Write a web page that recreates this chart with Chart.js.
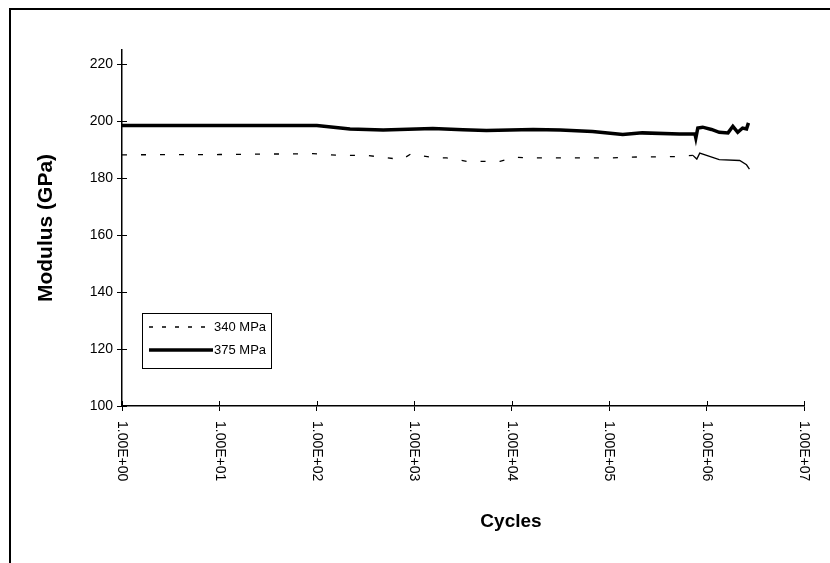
<!DOCTYPE html>
<html>
<head>
<meta charset="utf-8">
<script src="https://cdn.jsdelivr.net/npm/chart.js@4/dist/chart.umd.min.js"></script>
<style>
  html, body { margin: 0; padding: 0; background: #fff; }
  #wrap { position: relative; width: 830px; height: 563px; }
</style>
</head>
<body>
<div id="wrap"><canvas id="c" width="830" height="563"></canvas></div>
<script>
// Elastic modulus against fatigue cycles for two stress amplitudes
const seriesLabels = ['340 MPa', '375 MPa'];

const cycles340 = [1, 10, 91, 174, 324, 603, 759, 933, 1122, 1698, 2138, 3467, 7586, 10715,
  15136, 109600, 162200, 525000, 724000, 794000, 851000, 1349000, 2188000, 2570000, 2754000];
const modulus340 = [188.2, 188.3, 188.6, 188.0, 188.0, 186.9, 186.7, 188.6, 188.0, 187.1, 187.1, 185.9, 185.9, 187.4,
  187.1, 187.1, 187.4, 187.6, 188.0, 186.7, 188.8, 186.5, 186.2, 184.7, 183.2];

const cycles375 = [1, 10, 100, 219, 479, 1549, 3162, 5495, 16600, 31600, 67600, 138000, 219000,
  525000, 759000, 776000, 813000, 912000, 1122000, 1349000, 1660000, 1862000, 2089000, 2344000, 2570000, 2692000];
const modulus375 = [198.5, 198.5, 198.5, 197.3, 196.9, 197.4, 197.0, 196.7, 197.1, 196.9, 196.4, 195.3, 195.9,
  195.5, 195.6, 194.1, 197.6, 197.9, 197.1, 196.1, 195.9, 198.2, 196.1, 197.6, 197.3, 199.4];

const xTickValues = [1, 10, 100, 1000, 10000, 100000, 1000000, 10000000];
const xTickLabels = ['1.00E+00', '1.00E+01', '1.00E+02', '1.00E+03', '1.00E+04', '1.00E+05', '1.00E+06', '1.00E+07'];
const yTickValues = [100, 120, 140, 160, 180, 200, 220];
const xAxisTitle = 'Cycles';
const yAxisTitle = 'Modulus (GPa)';

const FONT = 'Arial, "Liberation Sans", sans-serif';

function toPoints(xs, ys) {
  return xs.map((x, i) => ({ x: x, y: ys[i] }));
}

// Outer frame, ticks that cross the axes, rotated tick labels, x title and the legend box
const decorations = {
  id: 'decorations',
  beforeDraw(chart) {
    const ctx = chart.ctx;
    ctx.save();
    ctx.fillStyle = '#fff';
    ctx.fillRect(0, 0, chart.width, chart.height);
    ctx.strokeStyle = '#000';
    ctx.lineWidth = 2;
    ctx.beginPath();
    ctx.moveTo(10, chart.height);
    ctx.lineTo(10, 9);
    ctx.lineTo(chart.width, 9);
    ctx.stroke();
    ctx.restore();
  },
  afterDraw(chart) {
    const ctx = chart.ctx;
    const xs = chart.scales.x;
    const ys = chart.scales.y;
    ctx.save();
    ctx.strokeStyle = '#000';
    ctx.lineWidth = 1;
    // inner halves of the tick marks
    ctx.beginPath();
    yTickValues.forEach(v => {
      const py = Math.round(ys.getPixelForValue(v)) + 0.5;
      ctx.moveTo(xs.left, py);
      ctx.lineTo(xs.left + 5, py);
    });
    xTickValues.forEach(v => {
      const px = Math.round(xs.getPixelForValue(v)) + 0.5;
      ctx.moveTo(px, ys.bottom);
      ctx.lineTo(px, ys.bottom - 5);
    });
    ctx.stroke();

    // x tick labels, reading downwards
    ctx.fillStyle = '#000';
    ctx.font = '14px ' + FONT;
    ctx.textAlign = 'left';
    ctx.textBaseline = 'middle';
    xTickValues.forEach((v, i) => {
      const px = xs.getPixelForValue(v);
      ctx.save();
      ctx.translate(px, ys.bottom + 15);
      ctx.rotate(Math.PI / 2);
      ctx.fillText(xTickLabels[i], 0, 0);
      ctx.restore();
    });

    // x axis title
    ctx.font = 'bold 19px ' + FONT;
    ctx.textAlign = 'center';
    ctx.fillText(xAxisTitle, 511, 522);

    // legend
    const bx = 142, by = 313, bw = 129, bh = 55;
    ctx.fillStyle = '#fff';
    ctx.fillRect(bx, by, bw, bh);
    ctx.lineWidth = 1;
    ctx.strokeRect(bx + 0.5, by + 0.5, bw, bh);
    ctx.font = '13px ' + FONT;
    ctx.textAlign = 'left';
    ctx.textBaseline = 'middle';
    chart.data.datasets.forEach((ds, i) => {
      const ry = by + 14 + i * 23;
      ctx.save();
      ctx.strokeStyle = ds.borderColor;
      ctx.lineWidth = ds.borderWidth;
      ctx.setLineDash(ds.legendDash || []);
      ctx.beginPath();
      ctx.moveTo(bx + 7, ry);
      ctx.lineTo(bx + 71, ry);
      ctx.stroke();
      ctx.restore();
      ctx.fillStyle = '#000';
      ctx.fillText(ds.label, bx + 72, ry);
    });
    ctx.restore();
  }
};

new Chart(document.getElementById('c'), {
  type: 'line',
  data: {
    datasets: [
      {
        label: seriesLabels[0],
        data: toPoints(cycles340, modulus340),
        borderColor: '#000',
        borderWidth: 1.3,
        borderDash: [5, 14],
        legendDash: [4, 9],
        segment: {
          borderDash: c => (c.p0.parsed.x >= 700000 ? [] : [5, 14])
        },
        pointRadius: 0,
        tension: 0,
        fill: false
      },
      {
        label: seriesLabels[1],
        data: toPoints(cycles375, modulus375),
        borderColor: '#000',
        borderWidth: 3.5,
        pointRadius: 0,
        tension: 0,
        fill: false
      }
    ]
  },
  options: {
    responsive: false,
    animation: false,
    devicePixelRatio: 1,
    layout: { padding: { left: 10, top: 50, right: 26, bottom: 0 } },
    plugins: {
      legend: { display: false },
      tooltip: { enabled: false }
    },
    scales: {
      x: {
        type: 'logarithmic',
        min: 1,
        max: 10000000,
        afterBuildTicks: s => { s.ticks = xTickValues.map(v => ({ value: v })); },
        afterFit: s => { s.height = 157; },
        ticks: { display: false },
        grid: { drawOnChartArea: false, drawTicks: true, tickLength: 5, color: '#000', lineWidth: 1 },
        border: { color: '#000', width: 1.5 }
      },
      y: {
        min: 100,
        max: 225,
        afterBuildTicks: s => { s.ticks = yTickValues.map(v => ({ value: v })); },
        afterFit: s => { s.width = 112; },
        ticks: { color: '#000', font: { family: FONT, size: 14 }, padding: 4 },
        grid: { drawOnChartArea: false, drawTicks: true, tickLength: 5, color: '#000', lineWidth: 1 },
        border: { color: '#000', width: 1.5 },
        title: {
          display: true,
          text: yAxisTitle,
          color: '#000',
          font: { family: FONT, size: 21, weight: 'bold' },
          padding: { top: 24, bottom: 0 }
        }
      }
    }
  },
  plugins: [decorations]
});
</script>
</body>
</html>
